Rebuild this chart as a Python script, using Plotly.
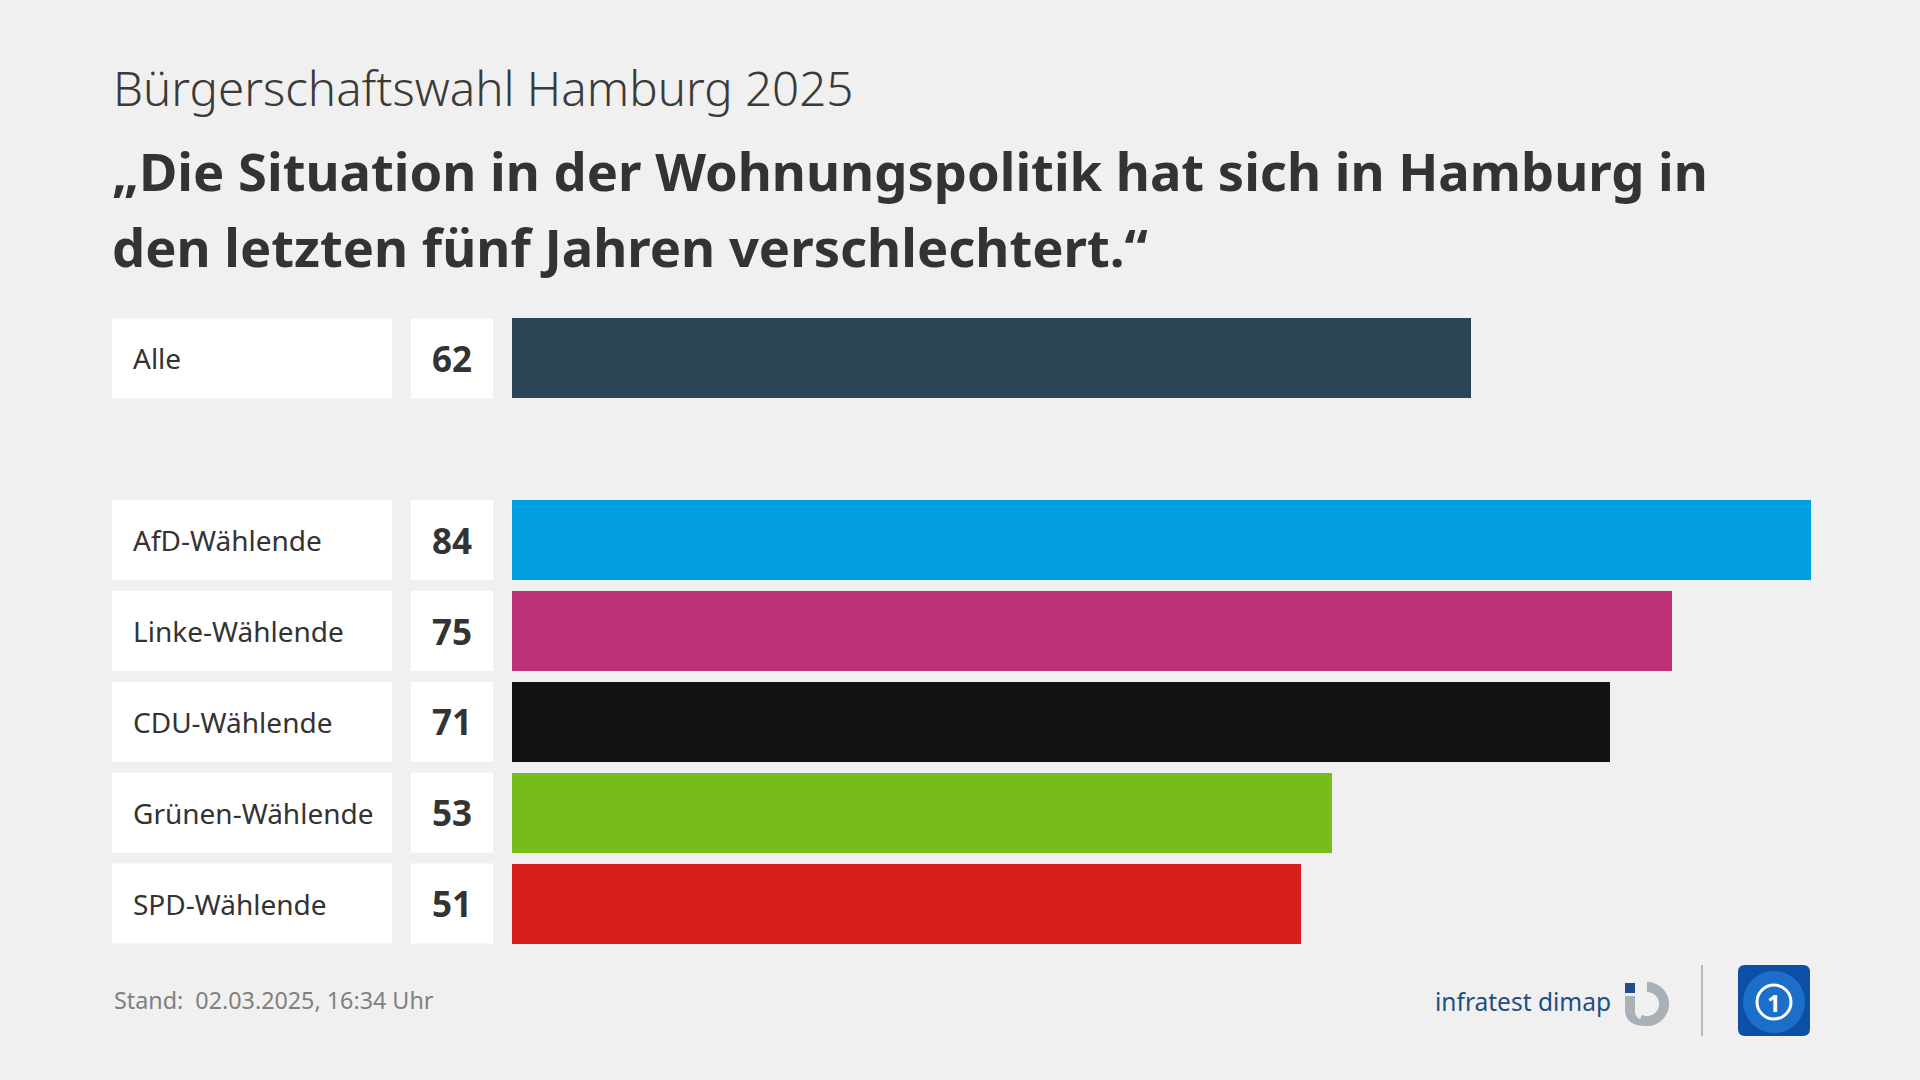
import plotly.graph_objects as go
import math

# ---------------- data ----------------
categories = ["Alle", "AfD-Wählende", "Linke-Wählende", "CDU-Wählende", "Grünen-Wählende", "SPD-Wählende"]
values = [62, 84, 75, 71, 53, 51]
bar_colors = ["#2b4557", "#009ee0", "#be3075", "#121212", "#78bc1b", "#d71f1d"]

subtitle = "Bürgerschaftswahl Hamburg 2025"
title_lines = ["„Die Situation in der Wohnungspolitik hat sich in Hamburg in",
               "den letzten fünf Jahren verschlechtert.“"]
footer = "Stand:  02.03.2025, 16:34 Uhr"
source = "infratest dimap"

# ---------------- layout geometry (pixels) ----------------
W, H = 1920, 1080
L, R, T, B = 512, 109, 313, 131
PW, PH = W - L - R, H - T - B

def px(x):
    return (x - L) / PW

def py(y):
    return (H - B - y) / PH

# row positions: gap row after "Alle"
positions = [i + (1 if i > 0 else 0) for i in range(len(categories))]
BW = 0.88

FONT = "Noto Sans"
DARK = "#333333"
BG = "#f0f0f0"

fig = go.Figure()
fig.add_trace(go.Bar(
    x=values, y=positions, orientation="h",
    marker=dict(color=bar_colors, line=dict(width=0)),
    width=BW, hoverinfo="skip", showlegend=False,
))

shapes = []
annotations = []
for cat, val, p in zip(categories, values, positions):
    shapes.append(dict(type="rect", xref="paper", yref="y",
                       x0=px(112), x1=px(392), y0=p - BW / 2, y1=p + BW / 2,
                       fillcolor="white", line=dict(width=0), layer="below"))
    shapes.append(dict(type="rect", xref="paper", yref="y",
                       x0=px(411), x1=px(493), y0=p - BW / 2, y1=p + BW / 2,
                       fillcolor="white", line=dict(width=0), layer="below"))
    annotations.append(dict(text=cat, xref="paper", yref="y", x=px(131), y=p,
                            xanchor="left", yanchor="middle", showarrow=False,
                            font=dict(family=FONT, size=28, color=DARK)))
    annotations.append(dict(text=f"<b>{val}</b>", xref="paper", yref="y", x=px(452), y=p,
                            xanchor="center", yanchor="middle", showarrow=False,
                            font=dict(family=FONT, size=35, color=DARK)))

# titles
annotations.append(dict(text=subtitle, xref="paper", yref="paper", x=px(111), y=py(88),
                        xanchor="left", yanchor="middle", showarrow=False,
                        font=dict(family=FONT, size=47.5, color="#3a3a3a", weight=300)))
for i, line in enumerate(title_lines):
    annotations.append(dict(text=f"<b>{line}</b>", xref="paper", yref="paper", x=px(110),
                            y=py(170 + 77 * i), xanchor="left", yanchor="middle",
                            showarrow=False,
                            font=dict(family=FONT, size=52.5, color=DARK)))

# footer
annotations.append(dict(text=footer, xref="paper", yref="paper", x=px(112), y=py(1000),
                        xanchor="left", yanchor="middle", showarrow=False,
                        font=dict(family=FONT, size=23.3, color="#808080")))
annotations.append(dict(text=source, xref="paper", yref="paper", x=px(1613), y=py(1001),
                        xanchor="right", yanchor="middle", showarrow=False,
                        font=dict(family=FONT, size=24.5, color="#1d4f80")))

# infratest icon
shapes.append(dict(type="rect", xref="paper", yref="paper",
                   x0=px(1625), x1=px(1635), y0=py(993), y1=py(983),
                   fillcolor="#1f4e8c", line=dict(width=0)))
shapes.append(dict(type="path", xref="paper", yref="paper",
                   path=(f"M {px(1625)},{py(996)} L {px(1635)},{py(996)} L {px(1635)},{py(1012)} "
                         f"Q {px(1635)},{py(1018)} {px(1642)},{py(1020)} L {px(1642)},{py(1026)} "
                         f"Q {px(1625)},{py(1024)} {px(1625)},{py(1010)} Z"),
                   fillcolor="#a9b0b7", line=dict(width=0)))
cx, cy, ro, ri = 1647, 1004, 22, 12
pts_o, pts_i = [], []
for k in range(0, 41):
    a = math.radians(-90 + k * (205 / 40))
    pts_o.append((cx + ro * math.cos(a), cy + ro * math.sin(a)))
    pts_i.append((cx + ri * math.cos(a), cy + ri * math.sin(a)))
path = "M " + " L ".join(f"{px(x)},{py(y)}" for x, y in pts_o)
path += " L " + " L ".join(f"{px(x)},{py(y)}" for x, y in reversed(pts_i)) + " Z"
shapes.append(dict(type="path", xref="paper", yref="paper", path=path,
                   fillcolor="#a9b0b7", line=dict(width=0)))

# separator
shapes.append(dict(type="line", xref="paper", yref="paper",
                   x0=px(1702), x1=px(1702), y0=py(965), y1=py(1036),
                   line=dict(color="#b8b8b8", width=2)))

# tagesschau-like logo
x0, x1, y0, y1, r = 1738, 1810, 965, 1036, 7
shapes.append(dict(type="path", xref="paper", yref="paper",
                   path=(f"M {px(x0 + r)},{py(y0)} L {px(x1 - r)},{py(y0)} Q {px(x1)},{py(y0)} {px(x1)},{py(y0 + r)} "
                         f"L {px(x1)},{py(y1 - r)} Q {px(x1)},{py(y1)} {px(x1 - r)},{py(y1)} "
                         f"L {px(x0 + r)},{py(y1)} Q {px(x0)},{py(y1)} {px(x0)},{py(y1 - r)} "
                         f"L {px(x0)},{py(y0 + r)} Q {px(x0)},{py(y0)} {px(x0 + r)},{py(y0)} Z"),
                   fillcolor="#0d4ea6", line=dict(width=0)))
shapes.append(dict(type="circle", xref="paper", yref="paper",
                   x0=px(1743), x1=px(1805), y0=py(1033), y1=py(971),
                   fillcolor="#1f78d1", line=dict(width=0), opacity=0.8))
shapes.append(dict(type="circle", xref="paper", yref="paper",
                   x0=px(1757), x1=px(1791), y0=py(1019), y1=py(985),
                   fillcolor="rgba(0,0,0,0)", line=dict(color="white", width=3)))
annotations.append(dict(text="<b>1</b>", xref="paper", yref="paper", x=px(1774), y=py(1002),
                        xanchor="center", yanchor="middle", showarrow=False,
                        font=dict(family=FONT, size=24, color="white")))

fig.update_layout(
    width=W, height=H,
    margin=dict(l=L, r=R, t=T, b=B, pad=0),
    paper_bgcolor=BG, plot_bgcolor=BG,
    xaxis=dict(range=[0, max(values)], visible=False, fixedrange=True),
    yaxis=dict(range=[max(positions) + 0.5, -0.5], visible=False, fixedrange=True),
    shapes=shapes, annotations=annotations,
    bargap=0, showlegend=False,
)

fig.write_html("out.html", config={"displayModeBar": False})
